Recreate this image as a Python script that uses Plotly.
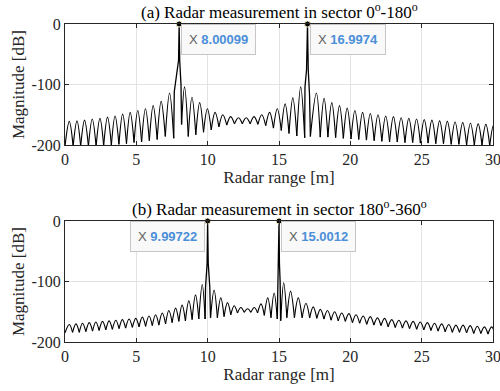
import plotly.graph_objects as go

# ---------------- (a) sector 0-180 ----------------
a_peak_x = [8.00099, 16.9974]
a_peak_y = [0, 0]
a_peak_label = ["8.00099", "16.9974"]

a_top_x = [0.30, 0.84, 1.37, 1.91, 2.45, 2.98, 3.51, 4.04, 4.57, 5.10, 5.64, 6.18, 6.74, 7.33,
           8.38, 8.90, 9.44, 9.98, 10.52, 11.06, 11.61, 12.16, 12.70, 13.25, 13.79, 14.34, 14.88, 15.43, 15.97, 16.52,
           17.62, 18.16, 18.70, 19.24, 19.78, 20.32, 20.86, 21.40, 21.94, 22.48, 23.02, 23.56, 24.10, 24.64,
           25.18, 25.72, 26.26, 26.80, 27.34, 27.88, 28.42, 28.96, 29.50, 30.04]
a_top_y = [-161, -160, -159, -157, -156, -154, -152, -149, -146, -143, -140, -135, -128, -114,
           -104, -121, -130, -140, -146, -150, -153, -155, -155, -153, -150, -146, -140, -132, -122, -104,
           -114, -123, -130, -135, -139, -143, -146, -148, -150, -152, -153, -155, -156, -157,
           -158, -159, -160, -161, -162, -163, -164, -165, -166, -167]
a_null_x = [0.00, 0.57, 1.10, 1.64, 2.18, 2.71, 3.25, 3.78, 4.31, 4.84, 5.37, 5.91, 6.46, 7.03, 7.62,
            8.17, 8.64, 9.17, 9.71, 10.25, 10.79, 11.34, 11.88, 12.43, 12.98, 13.52, 14.07, 14.61, 15.16, 15.70, 16.25, 16.80,
            17.20, 17.89, 18.43, 18.97, 19.51, 20.05, 20.59, 21.13, 21.67, 22.21, 22.75, 23.29, 23.83, 24.37,
            24.91, 25.45, 25.99, 26.53, 27.07, 27.61, 28.15, 28.69, 29.23, 29.77, 30.31]
a_null_y = [-202, -202, -202, -202, -202, -201, -200, -199, -198, -196, -195, -193, -191, -186, -189,
            -166, -186, -183, -179, -175, -170, -167, -165, -165, -165, -166, -168, -172, -176, -181, -185, -188,
            -186, -187, -187, -188, -189, -190, -191, -192, -193, -194, -195, -195, -196, -196,
            -197, -197, -198, -198, -199, -199, -200, -200, -200, -201, -201]
a_main1_x = [7.62, 7.66, 7.96, 8.00099, 8.04, 8.13, 8.17]
a_main1_y = [-189, -112, -60, 0, -60, -100, -166]
a_main2_x = [16.80, 16.82, 16.93, 16.9974, 17.05, 17.14, 17.20]
a_main2_y = [-188, -104, -76, 0, -76, -117, -186]

# ---------------- (b) sector 180-360 ----------------
b_peak_x = [9.99722, 15.0012]
b_peak_y = [0, 0]
b_peak_label = ["9.99722", "15.0012"]

b_top_x = [0.30, 0.77, 1.23, 1.70, 2.16, 2.63, 3.09, 3.56, 4.02, 4.49, 4.96, 5.42, 5.89, 6.35, 6.82,
           7.28, 7.75, 8.21, 8.68, 9.15, 9.62,
           10.45, 10.92, 11.39, 11.86, 12.33, 12.80, 13.27, 13.74, 14.21, 14.66,
           15.33, 15.81, 16.35, 16.89, 17.40, 17.90, 18.40, 18.90, 19.40, 19.90, 20.40, 20.90, 21.40, 21.90,
           22.40, 22.90, 23.40, 23.90, 24.40, 24.90, 25.40, 25.90, 26.40, 26.90, 27.40, 27.90, 28.40, 28.90,
           29.40, 29.90]
b_top_y = [-171, -170, -169, -168, -167, -166, -165, -164, -163, -162, -161, -159, -157, -155, -152,
           -148, -144, -139, -132, -122, -105,
           -114, -127, -135, -140, -143, -145, -143, -137, -127, -119,
           -102, -116, -127, -136, -142, -146, -148, -150, -152, -153, -155, -157, -158, -160,
           -161, -163, -164, -165, -166, -167, -168, -169, -170, -171, -172, -172, -173, -174,
           -175, -175]
b_null_x = [0.00, 0.53, 1.00, 1.46, 1.93, 2.39, 2.86, 3.32, 3.79, 4.25, 4.72, 5.19, 5.65, 6.12, 6.58,
            7.05, 7.51, 7.98, 8.44, 8.91, 9.38, 9.82,
            10.20, 10.68, 11.15, 11.62, 12.09, 12.56, 13.03, 13.50, 13.97, 14.44, 14.88,
            15.12, 15.55, 16.08, 16.62, 17.15, 17.65, 18.15, 18.65, 19.15, 19.65, 20.15, 20.65, 21.15, 21.65,
            22.15, 22.65, 23.15, 23.65, 24.15, 24.65, 25.15, 25.65, 26.15, 26.65, 27.15, 27.65, 28.15, 28.65,
            29.15, 29.65, 30.15]
b_null_y = [-185, -184, -184, -183, -182, -181, -180, -179, -178, -177, -176, -175, -174, -173, -172,
            -170, -168, -166, -165, -163, -162, -162,
            -160, -160, -158, -155, -152, -151, -151, -152, -156, -160, -162,
            -165, -160, -160, -160, -160, -161, -162, -164, -165, -166, -168, -169, -171, -172,
            -173, -175, -176, -177, -178, -179, -180, -181, -182, -183, -184, -184, -185, -186,
            -186, -187, -187]
b_main1_x = [9.82, 9.85, 9.96, 9.99722, 10.04, 10.15, 10.20]
b_main1_y = [-162, -110, -70, 0, -70, -110, -160]
b_main2_x = [14.88, 14.91, 14.97, 15.0012, 15.03, 15.08, 15.12]
b_main2_y = [-162, -118, -70, 0, -70, -100, -165]

x_ticks = [0, 5, 10, 15, 20, 25, 30]
y_ticks = [-200, -100, 0]
y_ticktext = ["-200", "-100", "0"]

titles = ["(a) Radar measurement in sector 0<sup>o</sup>-180<sup>o</sup>",
          "(b) Radar measurement in sector 180<sup>o</sup>-360<sup>o</sup>"]


def lobe_path(top_x, top_y, null_x, null_y):
    xs, ys = [], []
    for tx, ty in zip(top_x, top_y):
        i = max(k for k, nx in enumerate(null_x) if nx < tx)
        xs += [null_x[i], tx, null_x[i + 1], None]
        ys += [null_y[i], ty, null_y[i + 1], None]
    return xs, ys


def join(*pairs):
    xs, ys = [], []
    for px, py in pairs:
        xs += list(px) + [None]
        ys += list(py) + [None]
    return xs, ys


SERIF = "Liberation Serif"
AX = "#262626"
fig = go.Figure()

panels = [
    (a_top_x, a_top_y, a_null_x, a_null_y, [(a_main1_x, a_main1_y), (a_main2_x, a_main2_y)],
     a_peak_x, a_peak_y, a_peak_label, ["left", "left"]),
    (b_top_x, b_top_y, b_null_x, b_null_y, [(b_main1_x, b_main1_y), (b_main2_x, b_main2_y)],
     b_peak_x, b_peak_y, b_peak_label, ["right", "left"]),
]

annotations = []
for k, (tx, ty, nx, ny, mains, pkx, pky, pkl, sides) in enumerate(panels):
    xa = "x" if k == 0 else "x2"
    ya = "y" if k == 0 else "y2"
    lx, ly = lobe_path(tx, ty, nx, ny)
    fig.add_trace(go.Scatter(x=lx, y=ly, mode="lines", xaxis=xa, yaxis=ya,
                             line=dict(color="black", width=1.15, shape="spline", smoothing=1.0),
                             hoverinfo="skip", showlegend=False))
    mx, my = join(*mains)
    fig.add_trace(go.Scatter(x=mx, y=my, mode="lines", xaxis=xa, yaxis=ya,
                             line=dict(color="black", width=1.3),
                             hoverinfo="skip", showlegend=False))
    fig.add_trace(go.Scatter(x=pkx, y=pky, mode="markers", xaxis=xa, yaxis=ya, cliponaxis=False,
                             marker=dict(color="black", size=6, line=dict(color="#f4f0c8", width=1)),
                             hoverinfo="skip", showlegend=False))
    for px, lab, side in zip(pkx, pkl, sides):
        annotations.append(dict(
            x=px, y=0, xref=xa, yref=ya, xanchor=side, yanchor="top",
            xshift=2 if side == "left" else -3, yshift=0, showarrow=False,
            text="<span style='color:#5f5f5f'>X</span> <b><span style='color:#4b8fd8'>%s</span></b>" % lab,
            font=dict(family="Liberation Sans", size=13),
            bgcolor="#f9f9f9", bordercolor="#c6c6c6", borderwidth=1, borderpad=7))

top_dom = [0.6195, 1.0]
bot_dom = [0.0, 0.3805]
for dom, t in zip([top_dom, bot_dom], titles):
    annotations.append(dict(x=0.5, y=dom[1], xref="paper", yref="paper", xanchor="center",
                            yanchor="bottom", yshift=0, showarrow=False, text=t,
                            font=dict(family=SERIF, size=17, color="black")))

axis_common = dict(showline=True, linecolor=AX, linewidth=1, mirror="ticks", ticks="inside",
                   ticklen=4, tickcolor=AX, showgrid=True, gridcolor="#e3e3e3", gridwidth=1,
                   zeroline=False, automargin=False, ticklabeloverflow="allow",
                   tickfont=dict(family=SERIF, size=16, color=AX))

xa_cfg = dict(axis_common, range=[0, 30], tickvals=x_ticks,
              title=dict(text="Radar range [m]", font=dict(family=SERIF, size=17, color=AX), standoff=3))
ya_cfg = dict(axis_common, range=[-200, 0], tickvals=y_ticks, ticktext=y_ticktext,
              title=dict(text="Magnitude [dB]", font=dict(family=SERIF, size=17, color=AX), standoff=2))

fig.update_layout(
    width=500, height=391,
    margin=dict(l=65, r=7, t=24, b=49, autoexpand=False),
    paper_bgcolor="white", plot_bgcolor="white",
    xaxis=dict(xa_cfg, domain=[0, 1], anchor="y"),
    yaxis=dict(ya_cfg, domain=top_dom, anchor="x"),
    xaxis2=dict(xa_cfg, domain=[0, 1], anchor="y2"),
    yaxis2=dict(ya_cfg, domain=bot_dom, anchor="x2"),
    annotations=annotations,
    showlegend=False,
)

fig.write_html("out.html", config={"displayModeBar": False, "staticPlot": True},
               post_script="document.body.style.margin='0';document.body.style.overflow='hidden';")
